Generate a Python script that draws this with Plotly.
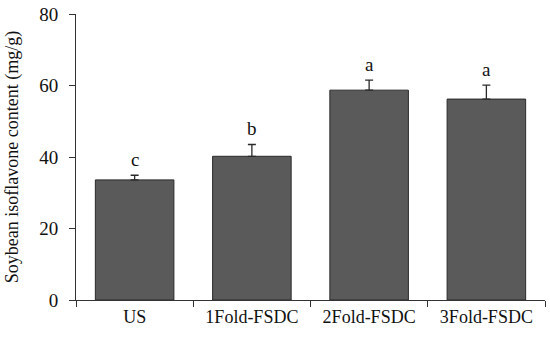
import plotly.graph_objects as go

categories = ["US", "1Fold-FSDC", "2Fold-FSDC", "3Fold-FSDC"]
values = [33.6, 40.2, 58.7, 56.2]
errors = [1.3, 3.3, 2.8, 3.9]
letters = ["c", "b", "a", "a"]
y_ticks = [0, 20, 40, 60, 80]

font_family = "Liberation Serif, Times New Roman, serif"

fig = go.Figure()
fig.add_trace(go.Bar(
    x=categories, y=values,
    width=0.67,
    marker=dict(color="#5a5a5a", line=dict(color="#2a2a2a", width=1)),
    error_y=dict(type="data", array=errors, arrayminus=[0] * len(errors),
                 symmetric=False, color="#2a2a2a", thickness=1.3, width=4),
))

for c, v, e, l in zip(categories, values, errors, letters):
    fig.add_annotation(x=c, y=v + e, text=l, showarrow=False,
                       yanchor="bottom", yshift=3,
                       font=dict(family=font_family, size=19, color="#111111"))

fig.update_layout(
    width=550, height=337,
    margin=dict(l=76, r=5, t=14, b=37),
    plot_bgcolor="white", paper_bgcolor="white",
    showlegend=False,
    font=dict(family=font_family, size=18, color="#111111"),
    xaxis=dict(
        type="category", tickson="boundaries", automargin=False,
        showline=True, linecolor="#333333", linewidth=1,
        ticks="outside", ticklen=6, tickcolor="#333333",
        showgrid=False, tickfont=dict(size=18),
    ),
    yaxis=dict(
        range=[0, 80], tickvals=y_ticks, automargin=False,
        showline=True, linecolor="#333333", linewidth=1,
        ticks="outside", ticklen=6, tickcolor="#333333",
        ticklabelstandoff=7,
        showgrid=False, zeroline=False, tickfont=dict(size=19),
        title=dict(text="Soybean isoflavone content (mg/g)",
                   font=dict(size=18), standoff=15),
    ),
)

fig.write_html("out.html",
               config={"displayModeBar": False},
               post_script="document.body.style.margin='0';document.body.style.overflow='hidden';")
